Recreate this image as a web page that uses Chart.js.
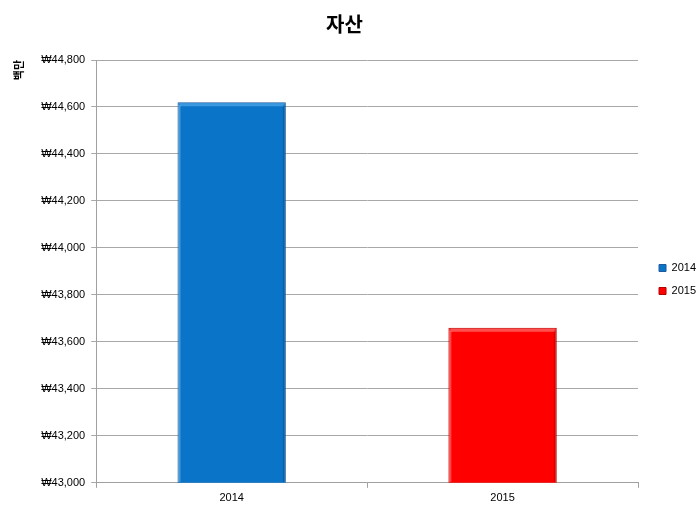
<!DOCTYPE html>
<html><head><meta charset="utf-8">
<script src="https://cdn.jsdelivr.net/npm/chart.js@4/dist/chart.umd.min.js"></script>
<style>html,body{margin:0;padding:0;background:#fff}#wrap{width:700px;height:509px}</style>
</head><body><div id="wrap"><canvas id="c"></canvas></div>
<script>
const categories = ['2014', '2015'];
const assetValues = [44620, 43660];
const barColors = ['#0A74C8', '#FF0000'];
const borderColors = ['#1F5A9C', '#B00000'];
const highlightColors = ['#3A98E0', '#FF5050'];
const yMin = 43000, yMax = 44800, yStep = 200;

const boxShift = {
  id: 'boxShift',
  afterUpdate(chart) {
    const l = chart.legend;
    if (l) { l.left += 9; l.right += 9; l.top += 21; l.bottom += 21; }
    const t = chart.titleBlock;
    if (t) { t.left -= 10; t.right -= 10; }
  }
};

const bevel = {
  id: 'bevel',
  afterDatasetsDraw(chart) {
    const ctx = chart.ctx;
    const bottom = chart.chartArea.bottom;
    const meta = chart.getDatasetMeta(0);
    meta.data.forEach((bar, i) => {
      const p = bar.getProps(['x', 'y', 'width'], true);
      const l = p.x - p.width / 2, r = p.x + p.width / 2;
      const h = bottom - p.y - 4;
      ctx.save();
      ctx.fillStyle = highlightColors[i];
      ctx.fillRect(l + 2, p.y + 1, p.width - 4, 3);
      ctx.fillStyle = 'rgba(255,255,255,0.25)';
      ctx.fillRect(l + 1, p.y + 3, 2, h);
      ctx.fillStyle = 'rgba(0,0,0,0.15)';
      ctx.fillRect(r - 3, p.y + 3, 2, h);
      ctx.restore();
    });
  }
};

Chart.defaults.font.family = '"Liberation Sans", "Noto Sans CJK KR", sans-serif';
new Chart(document.getElementById('c'), {
  type: 'bar',
  plugins: [boxShift, bevel],
  data: {
    labels: categories,
    datasets: [{
      label: '자산',
      data: assetValues,
      backgroundColor: barColors,
      borderColor: borderColors,
      borderWidth: 1,
      categoryPercentage: 0.8,
      barPercentage: 0.5
    }]
  },
  options: {
    responsive: true,
    maintainAspectRatio: false,
    animation: false,
    layout: { padding: { left: 12, right: 3, top: 8, bottom: 0 } },
    plugins: {
      title: {
        display: true, text: '자산', color: '#000',
        font: { size: 20, weight: 'bold', family: '"Noto Sans CJK KR", sans-serif' },
        padding: { top: 4, bottom: 24 }
      },
      legend: {
        position: 'right',
        labels: {
          color: '#000', boxWidth: 7, boxHeight: 7, font: { size: 11 }, padding: 12,
          generateLabels: (chart) => categories.map((c, i) => ({
            text: c, fillStyle: barColors[i], strokeStyle: borderColors[i], lineWidth: 1, index: i, hidden: false
          }))
        },
        onClick: () => {}
      },
      tooltip: { enabled: false }
    },
    scales: {
      x: {
        grid: { display: true, drawOnChartArea: false, drawTicks: true, tickLength: 5, color: '#a0a0a0', offset: true },
        border: { color: '#a0a0a0' },
        ticks: { color: '#000', font: { size: 11 }, padding: 4 }
      },
      y: {
        min: yMin, max: yMax,
        ticks: {
          stepSize: yStep, color: '#000', font: { size: 11 }, padding: 6,
          callback: (v) => '₩' + v.toLocaleString('en-US')
        },
        grid: { color: '#a8a8a8', tickLength: 5 },
        border: { color: '#a0a0a0' },
        title: {
          display: true, text: '백만', align: 'end', color: '#000',
          font: { size: 11, weight: 'bold', family: '"Noto Sans CJK KR", sans-serif' },
          padding: { top: 0, bottom: 10 }
        }
      }
    }
  }
});
</script></body></html>
